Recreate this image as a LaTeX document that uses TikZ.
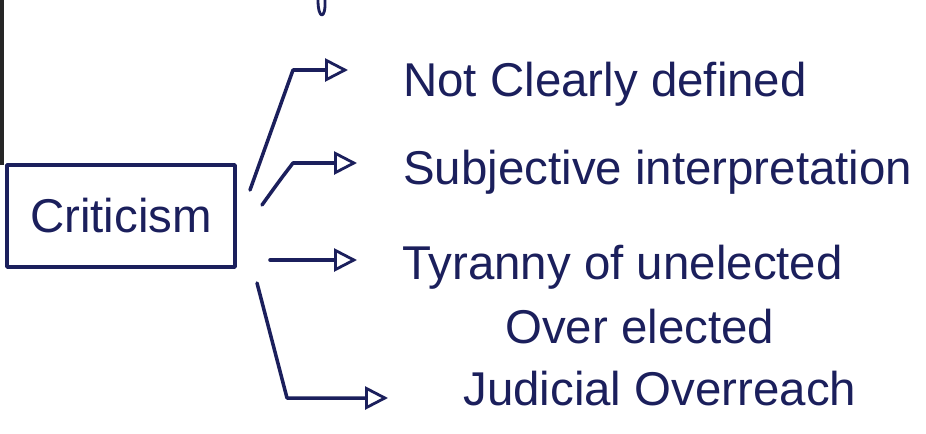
\documentclass[tikz,border=0pt]{standalone}
\usepackage{fontspec}
\setmainfont{Liberation Sans}
\usetikzlibrary{arrows.meta}
\definecolor{ink}{HTML}{1B1F5C}
\tikzset{
  ink line/.style={draw=ink, line width=2pt, line cap=round, line join=round},
  arr/.style={ink line, -{Triangle[open, length=13pt, width=13pt, line width=1.6pt]}},
  itemtext/.style={text=ink, font=\fontsize{27}{32}\selectfont, anchor=base west, inner sep=0pt},
  critbox/.style={ink line, rectangle, minimum width=4.56cm, minimum height=2.04cm,
    text=ink, font=\fontsize{27}{32}\selectfont},
}
\begin{document}
\begin{tikzpicture}[x=0.02cm, y=-0.02cm]
  \useasboundingbox[fill=white] (0,0) rectangle (926,433);

  % page edge and the tail of a letter from the line above
  \draw[line width=2.6pt, black!85] (1.5,0) -- (1.5,165);
  \draw[ink line, line width=1.6pt] (318,0) .. controls (318,20) and (326,20) .. (325,0);

  % central box
  \node[critbox] (crit) at (121,216) {Criticism};

  % items
  \node[itemtext] (t1) at (403,96)  {Not Clearly defined};
  \node[itemtext] (t2) at (403,184) {Subjective interpretation};
  \node[itemtext] (t3) at (402,279) {Tyranny of unelected};
  \node[itemtext] (t4) at (505,343) {Over elected};
  \node[itemtext] (t5) at (463,405) {Judicial Overreach};

  % connector start points and bends
  \coordinate (s1) at (250,190);  \coordinate (c1) at (293,70);
  \coordinate (s2) at (262,205);  \coordinate (c2) at (293,163);
  \coordinate (s3) at (270,260);
  \coordinate (s4) at (257,283);  \coordinate (c4) at (287,398);

  \draw[arr, shorten >=1.1cm] (s1) -- (c1) -- (c1 -| t1.west);
  \draw[arr, shorten >=0.92cm] (s2) .. controls (280,180) .. (c2) -- (c2 -| t2.west);
  \draw[arr, shorten >=0.9cm] (s3) -- (s3 -| t3.west);
  \draw[arr, shorten >=1.5cm] (s4) -- (c4) -- (c4 -| t5.west);
\end{tikzpicture}
\end{document}
